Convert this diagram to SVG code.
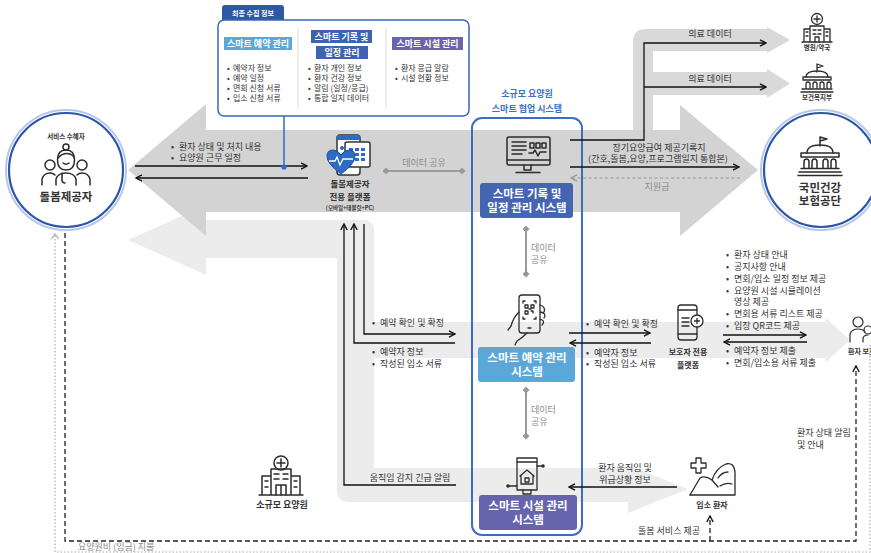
<svg xmlns="http://www.w3.org/2000/svg" width="871" height="553" viewBox="0 0 871 553">
<defs>
<style>
text{font-family:"Noto Sans CJK KR","Noto Sans",sans-serif;fill:#333}
.s9{font-size:9px}
.s8{font-size:8px}
.s7{font-size:7px}
.b{font-weight:700}
.c{text-anchor:middle}
.gr{fill:#8c8c8c}
.w{fill:#fff}
.bl{fill:#3b72c4}
.ln{fill:none;stroke:#111;stroke-width:1.3}
.ic{fill:none;stroke:#2b2b2b;stroke-width:1.5;stroke-linejoin:round;stroke-linecap:round}
.share{fill:none;stroke:#9a9a9a;stroke-width:2}
.dash{fill:none;stroke:#222;stroke-width:1.3;stroke-dasharray:5 3}
.dot{fill:none;stroke:#aaa;stroke-width:1.2;stroke-dasharray:1.5 2}
</style>
<marker id="ah" viewBox="0 0 8 8" refX="7" refY="4" markerWidth="8" markerHeight="8" markerUnits="userSpaceOnUse" orient="auto">
<path d="M1,0.8 L7,4 L1,7.2" fill="none" stroke="#111" stroke-width="1.4"/>
</marker>
<marker id="ahg" viewBox="0 0 8 8" refX="7" refY="4" markerWidth="8" markerHeight="8" markerUnits="userSpaceOnUse" orient="auto">
<path d="M1,0.8 L7,4 L1,7.2" fill="none" stroke="#999" stroke-width="1.4"/>
</marker>
<marker id="dm" viewBox="0 0 6 6" refX="3" refY="3" markerWidth="7" markerHeight="7" markerUnits="userSpaceOnUse">
<path d="M3,0 L6,3 L3,6 L0,3Z" fill="#999"/>
</marker>
</defs>
<rect width="871" height="553" fill="#fff"/>

<!-- background flow bands -->
<g id="bands">
<path fill="#ececec" d="M128,240 L206,205 L206,220 L364,220 Q374,220 374,230 L374,322 L826,322 L826,318 L850,340 L826,362 L826,358 L374,358 L374,468 L628,468 L628,465 L688,489 L628,513 L628,502 L349,502 Q337,502 337,490 L337,258 L206,258 L206,275 Z"/>
<path fill="#d9d9d9" d="M633,130 L633,42 Q633,29 646,29 L767,29 L767,27 L790,40 L767,53 L767,51 L653,51 L653,72 L767,72 L767,69 L790,83.5 L767,98 L767,95 L653,95 L653,130 Z"/>
<path fill="#d3d3d3" d="M128,170 L206,104 L206,130 L680,130 L680,105 L758,170 L680,236 L680,212 L206,212 L206,236 Z"/>
</g>

<!-- collected information panel -->
<g id="info-panel">
<path d="M222,21 L222,8 Q222,5 225,5 L281,5 Q284,5 284,8 L284,21 Z" fill="#2e58a6"/>
<text x="253" y="16" class="s7 b c w">최종 수집 정보</text>
<rect x="218" y="20" width="251" height="96" rx="6" fill="#fff" stroke="#3a66b8" stroke-width="1.5"/>
<line x1="298" y1="28" x2="298" y2="109" stroke="#ddd"/>
<line x1="386" y1="28" x2="386" y2="109" stroke="#ddd"/>
<rect x="224" y="37" width="68" height="13" fill="#5aa8d8"/>
<text x="258" y="47" class="b c w" style="font-size:9px">스마트 예약 관리</text>
<rect x="311" y="30" width="61" height="13" fill="#3f63b0"/>
<rect x="316" y="46" width="52" height="13" fill="#3f63b0"/>
<text x="341.5" y="40" class="b c w" style="font-size:9px">스마트 기록 및<tspan x="342" dy="16">일정 관리</tspan></text>
<rect x="392" y="37" width="71" height="13" fill="#6a63ad"/>
<text x="427.5" y="47" class="b c w" style="font-size:9px">스마트 시설 관리</text>
<text x="227" y="71" class="s8">•<tspan x="233">예약자 정보</tspan><tspan x="227" dy="10">•</tspan><tspan x="233">예약 일정</tspan><tspan x="227" dy="10">•</tspan><tspan x="233">면회 신청 서류</tspan><tspan x="227" dy="9.5">•</tspan><tspan x="233">입소 신청 서류</tspan></text>
<text x="308" y="71" class="s8">•<tspan x="314">환자 개인 정보</tspan><tspan x="308" dy="10">•</tspan><tspan x="314">환자 건강 정보</tspan><tspan x="308" dy="10">•</tspan><tspan x="314">알림 (일정/응급)</tspan><tspan x="308" dy="9.5">•</tspan><tspan x="314">통합 일지 데이터</tspan></text>
<text x="395" y="71" class="s8">•<tspan x="401">환자 응급 알람</tspan><tspan x="395" dy="10">•</tspan><tspan x="401">시설 현황 정보</tspan></text>
</g>

<!-- caregiver circle -->
<g id="caregiver">
<circle cx="66" cy="170" r="60" fill="#fff" stroke="#b7c8ea" stroke-width="2"/>
<circle cx="66" cy="170" r="57" fill="none" stroke="#2d55a8" stroke-width="2.2"/>
<text x="66" y="139" class="b c" style="font-size:6.5px">서비스 수혜자</text>
<g class="ic">
<circle cx="66" cy="147" r="3"/>
<path d="M57.5,160 Q57.5,150 66,150 Q74.5,150 74.5,160 Q74.5,170 66,170 Q57.5,170 57.5,160Z"/>
<path d="M58,158 Q63,152 70,154 Q73,155 74.5,158"/>
<path d="M63,163 Q66,165.5 69,163"/>
<path d="M56,185 L56,179 Q58,173 66,173 Q74,173 76,179 L76,185"/>
<path d="M62,173 L62,180 Q62,183 65,183"/>
<circle cx="50" cy="165" r="5"/>
<path d="M42,185 L42,179 Q44,173 50,173 Q53,173 55,175"/>
<circle cx="82" cy="165" r="5"/>
<path d="M90,185 L90,179 Q88,173 82,173 Q79,173 77,175"/>
</g>
<text x="66" y="201" class="b c" style="font-size:11.5px">돌봄제공자</text>
</g>

<!-- national health insurance circle -->
<g id="nhis">
<circle cx="821" cy="170" r="60" fill="#fff" stroke="#b7c8ea" stroke-width="2"/>
<circle cx="821" cy="170" r="57" fill="none" stroke="#2d55a8" stroke-width="2.2"/>
<g class="ic">
<path d="M820,146 L820,137 L827,139 L820,141"/>
<path d="M807,153 Q807,145 820,145 Q833,145 833,153"/>
<rect x="801" y="153" width="38" height="4"/>
<path d="M804,168 L804,162 Q804,159 806.5,159 Q809,159 809,162 L809,168 M812,168 L812,162 Q812,159 814.5,159 Q817,159 817,162 L817,168 M823,168 L823,162 Q823,159 825.5,159 Q828,159 828,162 L828,168 M831,168 L831,162 Q831,159 833.5,159 Q836,159 836,162 L836,168"/>
<path d="M801,168.5 L839,168.5 M799,172 L841,172 M798,175.5 L842,175.5"/>
</g>
<text x="820" y="192" class="b c" style="font-size:11.5px">국민건강<tspan x="820" dy="13">보험공단</tspan></text>
</g>

<!-- hospital / pharmacy -->
<g id="hospital">
<g class="ic" style="stroke-width:1.3">
<circle cx="817" cy="19" r="5.5"/>
<path d="M817,16 L817,22 M814,19 L820,19"/>
<path d="M810,42 L810,26 L824,26 L824,42 M804,42 L804,29 L810,29 M824,29 L830,29 L830,42 M802,42 L832,42"/>
<path d="M813,30 h3 M818,30 h3 M813,34 h3 M818,34 h3 M815,42 L815,37 L819,37 L819,42 M806,32 h2 M806,36 h2 M826,32 h2 M826,36 h2"/>
</g>
<text x="817" y="50" class="b c" style="font-size:6.5px">병원/약국</text>
</g>

<!-- ministry of health and welfare -->
<g id="ministry">
<g class="ic" style="stroke-width:1.3">
<path d="M817,72 L817,64 L823,66 L817,68"/>
<path d="M806,77 Q806,71 817,71 Q828,71 828,77"/>
<rect x="803" y="77" width="28" height="3"/>
<path d="M806,88 L806,84 Q806,82 808,82 Q810,82 810,84 L810,88 M813,88 L813,84 Q813,82 815,82 Q817,82 817,84 L817,88 M820,88 L820,84 Q820,82 822,82 Q824,82 824,84 L824,88 M827,88 L827,84 Q827,82 829,82 Q831,82 831,84 L831,88"/>
<path d="M802,89 L832,89 M801,92 L833,92"/>
</g>
<text x="817" y="100" class="b c" style="font-size:6.5px">보건복지부</text>
</g>

<!-- caregiver platform -->
<g id="platform">
<rect x="337" y="135" width="23" height="40" rx="3" fill="#fff" stroke="#333" stroke-width="1.5"/>
<rect x="337" y="135" width="23" height="5" fill="#2e6bc4"/>
<rect x="345" y="142" width="25" height="25" rx="2" fill="#fff" stroke="#333" stroke-width="1.5"/>
<g fill="#2e6bc4">
<rect x="349" y="148" width="4" height="3"/><rect x="355" y="148" width="4" height="3"/><rect x="361" y="148" width="4" height="3"/>
<rect x="349" y="153" width="4" height="3"/><rect x="355" y="153" width="4" height="3"/><rect x="361" y="153" width="4" height="3"/>
<rect x="349" y="158" width="4" height="3"/><rect x="355" y="158" width="4" height="3"/><rect x="361" y="158" width="4" height="3"/>
</g>
<path d="M340,148 L344,148 M342,146 L342,150" stroke="#2e6bc4" stroke-width="2.2"/>
<path d="M341,174 Q327,164 327,156 Q327,150 333,150 Q338,150 341,155 Q344,150 349,150 Q355,150 355,156 Q355,164 341,174Z" fill="#2e6bc4" stroke="#1f4f9c"/>
<path d="M329,161 L335,161 L337,157 L340,165 L343,159 L353,159" fill="none" stroke="#fff" stroke-width="1.3"/>
<text x="350" y="187" class="b c" style="font-size:8.5px">돌봄제공자<tspan x="350" dy="13">전용 플랫폼</tspan><tspan x="350" dy="10" style="font-size:5.5px">(모바일+태블릿+PC)</tspan></text>
</g>

<!-- collaboration system frame -->
<g id="collab-system">
<text x="527" y="97" class="s9 b c bl">소규모 요양원<tspan x="527" dy="15">스마트 협업 시스템</tspan></text>
<rect x="472" y="118" width="110" height="417" rx="10" fill="none" stroke="#3d6cc0" stroke-width="2"/>
</g>

<!-- smart record and schedule system -->
<g id="record-system">
<g class="ic">
<rect x="507" y="137" width="43" height="28" rx="2"/>
<path d="M507,160 L550,160"/>
<path d="M512,142 h14 M512,146 h14 M512,150 h14 M512,154 h10"/>
<rect x="530" y="143" width="4" height="5"/><rect x="536" y="143" width="4" height="5"/><rect x="542" y="143" width="4" height="5"/>
<path d="M529,153 L533,153 L535,150 L538,156 L540,152 L546,152"/>
<path d="M524,165 L524,170 L531,170 L531,165 M516,172.5 L540,172.5"/>
</g>
<rect x="480" y="183" width="93" height="35" rx="3" fill="#4565b3"/>
<text x="527" y="198" class="b c w" style="font-size:11.5px">스마트 기록 및<tspan x="527" dy="14">일정 관리 시스템</tspan></text>
</g>

<!-- smart reservation system -->
<g id="reservation-system">
<g class="ic" style="stroke-width:1.3">
<rect x="519" y="295" width="21" height="38" rx="3"/>
<path d="M523,303 v-2 h2 M536,303 v-2 h-2 M523,317 v2 h2 M536,317 v2 h-2"/>
<path d="M525,305 h3 v3 h-3z M531,305 h3 v3 h-3z M525,311 h3 v3 h-3z M531,311 h2 v2 M529,309 h2"/>
<path d="M528,328 h3"/>
<path d="M540,305 Q546,307 544,312 M540,312 Q547,313 544,318 M540,319 Q546,321 542,325"/>
<path d="M519,312 Q513,318 511,326 L508,330 M527,333 Q522,338 517,341 L515,345"/>
</g>
<rect x="478" y="347" width="97" height="35" rx="3" fill="#5ba8d8"/>
<text x="527" y="362" class="b c w" style="font-size:11.5px">스마트 예약 관리<tspan x="527" dy="14">시스템</tspan></text>
</g>

<!-- smart facility system -->
<g id="facility-system">
<g class="ic" style="stroke-width:1.3">
<rect x="517" y="458" width="20" height="32"/>
<path d="M520,476 L527,470 L534,476 M521,476 L521,484 L533,484 L533,476"/>
<path d="M525,478 h4 v4 h-4z"/>
<path d="M517,462 h20 M537,466 L543,466 M508,486 L517,486 M523,490 L523,494 M531,490 L531,494 M523,494 L531,494"/>
</g>
<circle cx="543" cy="466" r="1.8" fill="#2b2b2b"/>
<circle cx="508" cy="486" r="1.8" fill="#2b2b2b"/>
<rect x="479" y="495" width="98" height="35" rx="3" fill="#6764ae"/>
<text x="528" y="510" class="b c w" style="font-size:11.5px">스마트 시설 관리<tspan x="528" dy="14">시스템</tspan></text>
</g>

<!-- guardian platform -->
<g id="guardian-platform">
<g class="ic" style="stroke-width:1.3">
<rect x="678" y="305" width="19" height="35" rx="3"/>
<path d="M678,310 h19 M678,334 h19 M682,318 h7 M682,322 h7 M682,326 h7"/>
</g>
<circle cx="697" cy="321" r="6" fill="#fff" stroke="#2b2b2b" stroke-width="1.3"/>
<path d="M697,318 v6 M694,321 h6" stroke="#2b2b2b" stroke-width="1.3"/>
<text x="688" y="355" class="s8 b c">보호자 전용<tspan x="688" dy="13">플랫폼</tspan></text>
</g>

<!-- patient guardian -->
<g id="guardian">
<g class="ic" style="stroke-width:1.2">
<circle cx="858" cy="322" r="5"/>
<path d="M850,342 L850,334 Q852,329 858,329 Q863,329 865,332"/>
<circle cx="868" cy="330" r="4"/>
<path d="M863,342 L863,338 Q864,335 868,335"/>
</g>
<text x="848" y="354" class="b" style="font-size:7px">환자 보호자</text>
</g>

<!-- admitted patient -->
<g id="patient">
<g class="ic" style="stroke-width:1.3">
<path d="M696,458 h5 v5 h5 v5 h-5 v5 h-5 v-5 h-5 v-5 h5z"/>
<path d="M690,495 L700,478 Q705,475 712,480 L718,487"/>
<path d="M712,480 Q716,468 726,464 Q734,462 735,472 L735,495 L690,495"/>
<path d="M718,478 Q722,472 728,472 M720,486 Q726,482 732,484"/>
</g>
<text x="712" y="508" class="s8 b c">입소 환자</text>
</g>

<!-- small nursing home -->
<g id="nursing-home">
<g class="ic" style="stroke-width:1.5">
<circle cx="281" cy="463" r="7"/>
<path d="M281,459 v8 M277,463 h8"/>
<path d="M271,495 L271,469 L291,469 L291,495 M262,495 L262,476 L271,476 M291,476 L300,476 L300,495 M259,495 L303,495"/>
<path d="M274,474 h5 M283,474 h5 M274,479 h5 M283,479 h5 M276,495 L276,485 L286,485 L286,495 M281,485 v10 M265,481 h3 M265,487 h3 M294,481 h3 M294,487 h3"/>
</g>
<text x="282" y="508" class="b c" style="font-size:9px">소규모 요양원</text>
</g>

<!-- connectors -->
<g id="connectors">
<!-- caregiver <-> platform -->
<line x1="135" y1="166" x2="307" y2="166" class="ln" marker-end="url(#ah)"/>
<line x1="308" y1="178" x2="136" y2="178" class="ln" marker-end="url(#ah)"/>
<path d="M284,116 L284,167" fill="none" stroke="#2e6bc4" stroke-width="1.5"/>
<circle cx="284" cy="167" r="2.6" fill="#2e6bc4"/>
<text x="171" y="150" class="s9">•<tspan x="179">환자 상태 및 처치 내용</tspan><tspan x="171" dy="11">•</tspan><tspan x="179">요양원 근무 일정</tspan></text>

<!-- data sharing -->
<line x1="386" y1="171" x2="462" y2="171" class="share" marker-start="url(#dm)" marker-end="url(#dm)"/>
<text x="424" y="166" class="s9 c gr">데이터 공유</text>
<line x1="526" y1="229" x2="526" y2="274" class="share" marker-start="url(#dm)" marker-end="url(#dm)"/>
<text x="531" y="251" class="s9 gr">데이터<tspan x="531" dy="12">공유</tspan></text>
<line x1="526" y1="390" x2="526" y2="436" class="share" marker-start="url(#dm)" marker-end="url(#dm)"/>
<text x="531" y="413" class="s9 gr">데이터<tspan x="531" dy="12">공유</tspan></text>

<!-- record system -> outside -->
<path d="M570,140 L644,140 L644,43 L766,43" class="ln" marker-end="url(#ah)"/>
<path d="M644,87 L766,87" class="ln" marker-end="url(#ah)"/>
<text x="710" y="37" class="s9 c">의료 데이터</text>
<text x="710" y="82" class="s9 c">의료 데이터</text>
<line x1="570" y1="167" x2="739" y2="167" class="ln" marker-end="url(#ah)"/>
<text x="659" y="151" class="s9 c">장기요양급여 제공기록지<tspan x="658" dy="11">(간호,돌봄,요양,프로그램일지 통합본)</tspan></text>
<line x1="740" y1="178" x2="571" y2="178" fill="none" stroke="#999" stroke-width="1.2" stroke-dasharray="3 2.5" marker-end="url(#ahg)"/>
<text x="657" y="190" class="s9 c gr">지원금</text>

<!-- platform <-> reservation / facility systems -->
<path d="M364,224 L364,334 L455,334" class="ln" marker-end="url(#ah)"/>
<path d="M455,343 L354,343 L354,224" class="ln" marker-end="url(#ah)"/>
<path d="M456,485 L344,485 L344,224" class="ln" marker-end="url(#ah)"/>
<text x="372" y="326" class="s9">•<tspan x="380">예약 확인 및 확정</tspan></text>
<text x="372" y="355" class="s9">•<tspan x="380">예약자 정보</tspan><tspan x="372" dy="12">•</tspan><tspan x="380">작성된 입소 서류</tspan></text>
<text x="410" y="481" class="s9 c">움직임 감지 긴급 알림</text>

<!-- reservation system <-> guardian platform -->
<line x1="569" y1="333" x2="650" y2="333" class="ln" marker-end="url(#ah)"/>
<line x1="651" y1="343" x2="570" y2="343" class="ln" marker-end="url(#ah)"/>
<text x="586" y="327" class="s9">•<tspan x="594">예약 확인 및 확정</tspan></text>
<text x="586" y="356" class="s9">•<tspan x="594">예약자 정보</tspan><tspan x="586" dy="11">•</tspan><tspan x="594">작성된 입소 서류</tspan></text>

<!-- guardian platform <-> guardian -->
<line x1="723" y1="335" x2="806" y2="335" class="ln" marker-end="url(#ah)"/>
<line x1="807" y1="342" x2="724" y2="342" class="ln" marker-end="url(#ah)"/>
<text x="726" y="258" class="s9">•<tspan x="734">환자 상태 안내</tspan><tspan x="726" dy="12">•</tspan><tspan x="734">공지사항 안내</tspan><tspan x="726" dy="12">•</tspan><tspan x="734">면회/입소 일정 정보 제공</tspan><tspan x="726" dy="12">•</tspan><tspan x="734">요양원 시설 시뮬레이션</tspan><tspan x="734" dy="11">영상 제공</tspan><tspan x="726" dy="12">•</tspan><tspan x="734">면회용 서류 리스트 제공</tspan><tspan x="726" dy="12">•</tspan><tspan x="734">입장 QR코드 제공</tspan></text>
<text x="726" y="354" class="s9">•<tspan x="734">예약자 정보 제출</tspan><tspan x="726" dy="12">•</tspan><tspan x="734">면회/입소용 서류 제출</tspan></text>

<!-- patient -> facility system -->
<line x1="677" y1="487" x2="569" y2="487" class="ln" marker-end="url(#ah)"/>
<text x="625" y="471" class="s9 c">환자 움직임 및<tspan x="625" dy="12">위급상황 정보</tspan></text>

<!-- care service loop -->
<path d="M65,233 L65,541 L856,541 L856,366" class="dash" marker-end="url(#ah)"/>
<path d="M710,541 L710,516" class="dash" marker-end="url(#ah)"/>
<text x="700" y="534" class="s9" text-anchor="end">돌봄 서비스 제공</text>
<text x="797" y="436" class="s9">환자 상태 알림<tspan x="797" dy="12">및 안내</tspan></text>

<!-- fee payment loop -->
<path d="M870,345 L870,552 L55,552 L55,236" class="dot"/>
<path d="M51.5,239 L55,234 L58.5,239" fill="none" stroke="#aaa" stroke-width="1.2"/>
<text x="78" y="550" class="s9 gr">요양원비 (임금) 지불</text>
</g>
</svg>
